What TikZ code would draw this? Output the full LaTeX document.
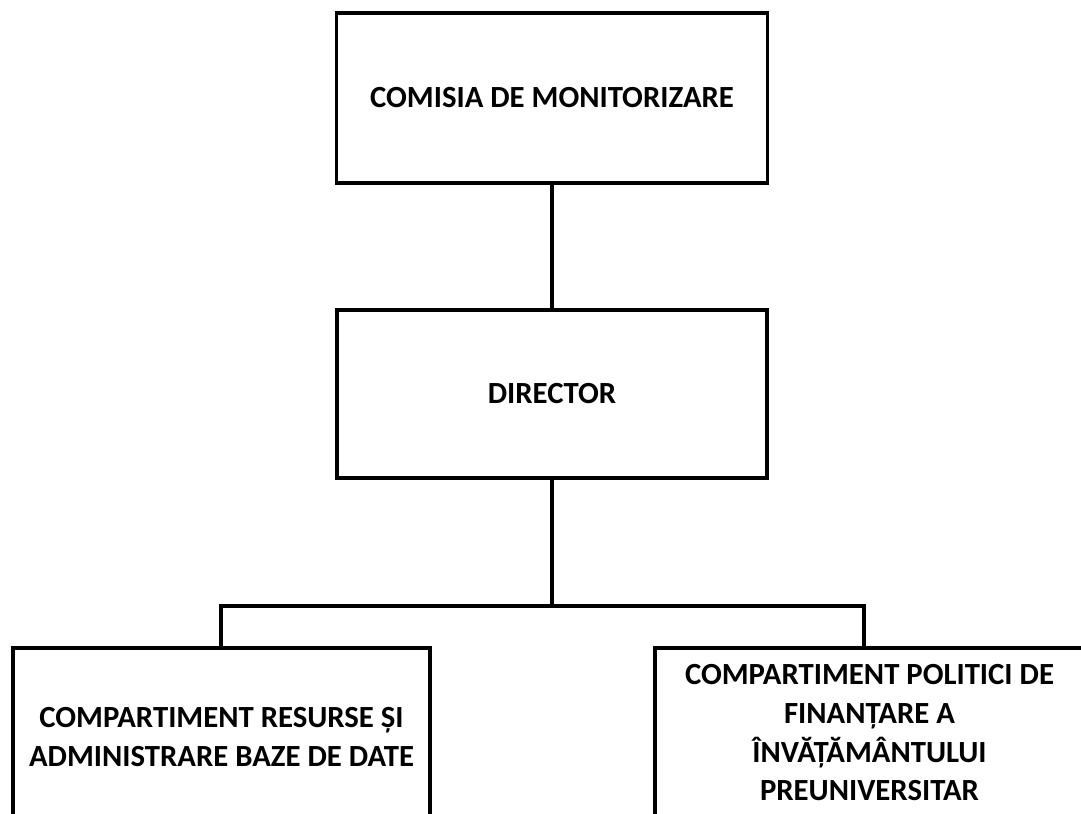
\documentclass[tikz,border=0pt]{standalone}
\usepackage{fontspec}
\setmainfont{Carlito}
\usetikzlibrary{positioning}

\begin{document}
\begin{tikzpicture}[
	box/.style={rectangle, draw=black, line width=2.2pt, fill=white, align=center, font=\fontsize{17.5}{22}\selectfont\bfseries},
	link/.style={draw=black, line width=1.8pt}]
	\useasboundingbox (0,0) rectangle (21.62,-16.28);

	% draw top boxes
	\node[box, minimum width=8.62cm, minimum height=3.4cm](comisie) at (11.04,-1.96){COMISIA DE MONITORIZARE};
	\node[box, minimum width=8.6cm, minimum height=3.36cm](director) at (11.04,-7.88){DIRECTOR};

	% draw compartment boxes
	\node[box, minimum width=8.34cm, minimum height=3.56cm](resurse) at (4.43,-14.74){COMPARTIMENT RESURSE ȘI\\ADMINISTRARE BAZE DE DATE};
	\node[box, minimum width=8.58cm, minimum height=3.4cm](politici) at (17.39,-14.66){COMPARTIMENT POLITICI DE\\FINANȚARE A\\ÎNVĂȚĂMÂNTULUI\\PREUNIVERSITAR};

	\coordinate(bus) at (11.04,-12.12);
	\coordinate(dropResurse) at (4.42,-12.96);
	\coordinate(dropPolitici) at (17.28,-12.96);

	\draw[link] (comisie.south) -- (director.north);
	\draw[link] (director.south) -- (bus);
	\draw[link] (bus) -| (dropResurse);
	\draw[link] (bus) -| (dropPolitici);
\end{tikzpicture}
\end{document}
